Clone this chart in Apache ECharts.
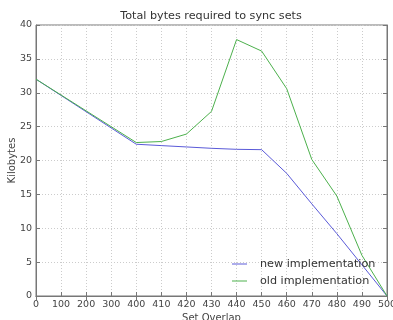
<!DOCTYPE html>
<html><head><meta charset="utf-8">
<script src="https://cdn.jsdelivr.net/npm/echarts@6/dist/echarts.min.js"></script>
<style>html,body{margin:0;padding:0;background:#fff}#c{width:393px;height:320px}</style>
</head><body><div id="c"></div>
<script>
const categories = ['0','100','200','300','400','410','420','430','440','450','460','470','480','490','500'];
const newImpl = [32, null, null, null, 22.4, 22.2, 22.0, 21.8, 21.65, 21.6, 18.1, 13.6, 9.2, 4.6, 0];
const oldImpl = [32, null, null, null, 22.65, 22.8, 23.9, 27.25, 37.85, 36.15, 30.6, 20.15, 14.75, 6.0, 0];
const yTicks = {min: 0, max: 40, interval: 5};
const font = 'DejaVu Sans';
const axisCol = '#777';
const gridLine = {show: true, lineStyle: {color: '#ccc', type: [1, 2]}};
const chart = echarts.init(document.getElementById('c'), null, {renderer: 'canvas'});
chart.setOption({
  animation: false,
  title: {text: 'Total bytes required to sync sets', left: 211, top: 11, textAlign: 'center', padding: 0,
    textStyle: {fontFamily: font, fontSize: 11.2, fontWeight: 'normal', color: '#333'}},
  grid: {left: 36, right: 6, top: 25, bottom: 24, containLabel: false, outerBoundsMode: 'none',
    show: true, borderColor: axisCol, borderWidth: 1},
  legend: {left: 232, top: 257, orient: 'vertical', padding: 0, itemGap: 3, itemWidth: 15, itemHeight: 1,
    icon: 'rect',
    textStyle: {fontFamily: font, fontSize: 11.2, color: '#333', padding: [0, 0, 0, 8], lineHeight: 14},
    data: ['new implementation', 'old implementation']},
  xAxis: [{type: 'category', data: categories, boundaryGap: false,
    name: 'Set Overlap', nameLocation: 'middle', nameGap: 17, nameMoveOverlap: false,
    nameTextStyle: {fontFamily: font, fontSize: 10, color: '#444'},
    axisLine: {lineStyle: {color: axisCol}},
    axisTick: {inside: true, length: 4, lineStyle: {color: axisCol}},
    axisLabel: {fontFamily: font, fontSize: 9.5, color: '#444', margin: 4, interval: 0},
    splitLine: gridLine},
   {type: 'category', data: categories, boundaryGap: false, position: 'top',
    axisLine: {lineStyle: {color: axisCol}},
    axisTick: {inside: true, length: 4, lineStyle: {color: axisCol}},
    axisLabel: {show: false}, splitLine: {show: false}}],
  yAxis: [{type: 'value', min: yTicks.min, max: yTicks.max, interval: yTicks.interval,
    name: 'Kilobytes', nameLocation: 'middle', nameGap: 19, nameMoveOverlap: false,
    nameTextStyle: {fontFamily: font, fontSize: 10, color: '#444'},
    axisLine: {show: true, lineStyle: {color: axisCol}},
    axisTick: {show: true, inside: true, length: 4, lineStyle: {color: axisCol}},
    axisLabel: {fontFamily: font, fontSize: 9.5, color: '#444', margin: 4},
    splitLine: gridLine},
   {type: 'value', min: yTicks.min, max: yTicks.max, interval: yTicks.interval, position: 'right',
    axisLine: {show: true, lineStyle: {color: axisCol}},
    axisTick: {show: true, inside: true, length: 4, lineStyle: {color: axisCol}},
    axisLabel: {show: false}, splitLine: {show: false}}],
  series: [
    {name: 'new implementation', type: 'line', data: newImpl, connectNulls: true, showSymbol: false,
      symbol: 'none', color: '#5a5ad8', lineStyle: {width: 1, color: '#5a5ad8'}},
    {name: 'old implementation', type: 'line', data: oldImpl, connectNulls: true, showSymbol: false,
      symbol: 'none', color: '#4cb04c', lineStyle: {width: 1, color: '#4cb04c'}}
  ]
});
</script></body></html>
